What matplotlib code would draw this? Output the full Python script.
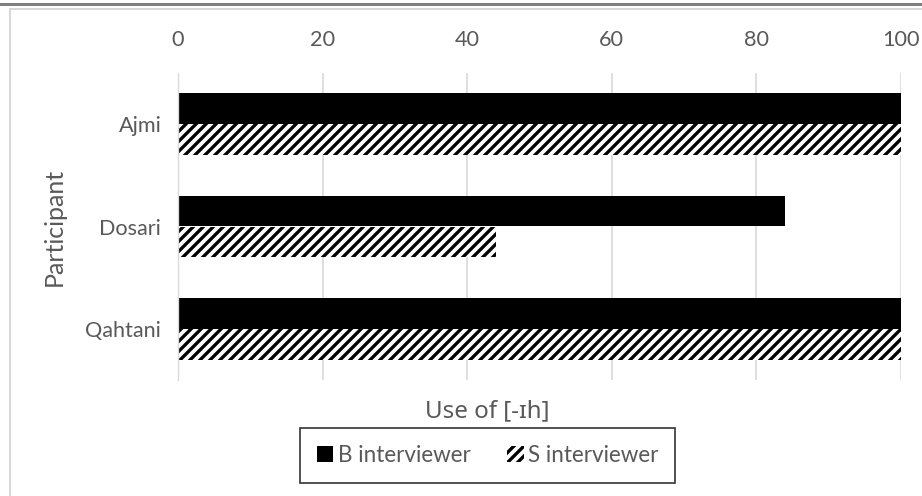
import matplotlib.pyplot as plt
import numpy as np
from matplotlib.patches import Patch
from matplotlib.lines import Line2D

# Data
participants = ["Ajmi", "Dosari", "Qahtani"]
b_interviewer = [100, 84, 100]
s_interviewer = [100, 44, 100]

text_color = "#595959"
grid_color = "#d9d9d9"

plt.rcParams["font.family"] = ["Lato", "DejaVu Sans"]
plt.rcParams["hatch.linewidth"] = 2.0

dpi = 120
fig = plt.figure(figsize=(922 / dpi, 496 / dpi), dpi=dpi)
ax = fig.add_axes([178 / 922, 1 - 380 / 496, (901 - 178) / 922, (380 - 73) / 496])

y = np.arange(len(participants))
h = 0.3
ax.barh(y - h / 2, b_interviewer, height=h, color="black", linewidth=0,
        label="B interviewer")
ax.barh(y + h / 2, s_interviewer, height=h, color="white", edgecolor="black",
        hatch="////", linewidth=0, label="S interviewer")

ax.set_xlim(0, 100)
ax.set_ylim(len(participants) - 0.5, -0.5)
ax.set_xticks(np.arange(0, 101, 20))
ax.set_yticks(y)
ax.set_yticklabels(participants)
ax.xaxis.tick_top()
ax.tick_params(axis="both", length=0, labelsize=13, labelcolor=text_color)
ax.tick_params(axis="x", pad=14)
ax.tick_params(axis="y", pad=10)

ax.grid(axis="x", color=grid_color, linewidth=1)
ax.set_axisbelow(True)
for side in ["top", "right", "bottom"]:
    ax.spines[side].set_visible(False)
ax.spines["left"].set_color(grid_color)

ax.set_ylabel("Participant", fontsize=15, color=text_color, labelpad=12)
fig.text(487 / 922, 1 - 411 / 496, "Use of [-ɪh]", ha="center", va="center",
         fontsize=14.5, color=text_color, family=["Noto Sans", "DejaVu Sans"])

# Chart border lines
fig.add_artist(Line2D([0, 1], [1 - 4 / 496] * 2, color="#808080", linewidth=1.8))
fig.add_artist(Line2D([9.5 / 922, 1], [1 - 9.5 / 496] * 2, color=grid_color, linewidth=1.2))
fig.add_artist(Line2D([9.5 / 922] * 2, [0, 1 - 9.5 / 496], color=grid_color, linewidth=1.2))

handles = [Patch(facecolor="black", edgecolor="black", linewidth=0),
           Patch(facecolor="white", edgecolor="black", hatch="////", linewidth=0)]
leg = fig.legend(handles, ["B interviewer", "S interviewer"], ncol=2,
                 loc="center", bbox_to_anchor=(487.5 / 922, 1 - 455.5 / 496),
                 fontsize=13.5, frameon=True, fancybox=False,
                 handlelength=0.75, handleheight=0.75, handletextpad=0.2,
                 columnspacing=1.6, borderpad=0.75)
leg.get_frame().set_edgecolor("black")
leg.get_frame().set_linewidth(1.0)
for t in leg.get_texts():
    t.set_color(text_color)

fig.savefig("out.png", dpi=dpi, facecolor="white")
